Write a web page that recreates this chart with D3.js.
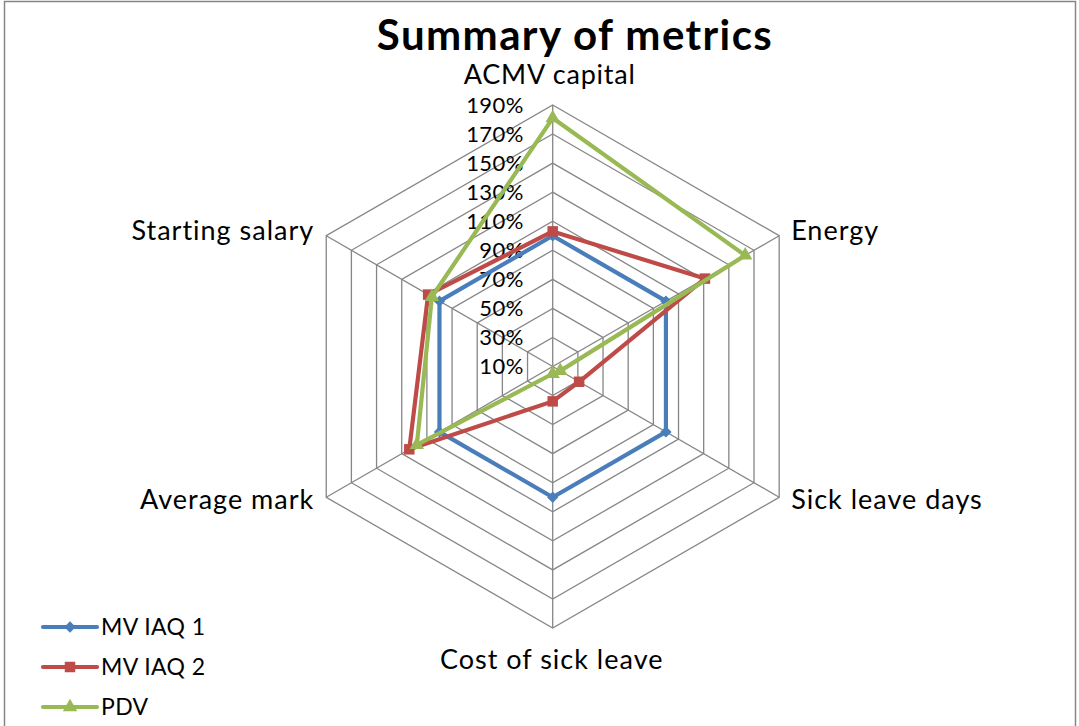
<!DOCTYPE html>
<html>
<head>
<meta charset="utf-8">
<script src="https://cdn.jsdelivr.net/npm/d3@7"></script>
<style>
  body { margin: 0; background: #fff; }
  text { font-family: Lato, "Open Sans", sans-serif; fill: #000; }
</style>
</head>
<body>
<div id="chart"></div>
<script>
// axis categories, clockwise from the top
var categories = ["ACMV capital", "Energy", "Sick leave days", "Cost of sick leave", "Average mark", "Starting salary"];

// series values (fractions, 1 = 100%)
var mvIaq1 = [1.00, 1.00, 1.00, 1.00, 1.00, 1.00];
var mvIaq2 = [1.03, 1.31, 0.31, 0.34, 1.24, 1.09];
var pdv    = [1.81, 1.63, 0.16, 0.15, 1.18, 1.06];

var seriesNames = ["MV IAQ 1", "MV IAQ 2", "PDV"];

// radial tick values / labels
var tickValues = [0.1, 0.3, 0.5, 0.7, 0.9, 1.1, 1.3, 1.5, 1.7, 1.9];
var tickLabels = ["10%", "30%", "50%", "70%", "90%", "110%", "130%", "150%", "170%", "190%"];

var width = 1079, height = 726;
var cx = 552.7, cy = 366.5, R = 261.5;
var colors = ["#4A7EBB", "#BE4B48", "#98B954"];
var gridColor = "#868686";

var svg = d3.select("#chart").append("svg")
    .attr("width", width)
    .attr("height", height);

// chart area border
svg.append("rect")
    .attr("x", 4.5).attr("y", 1.5)
    .attr("width", 1071).attr("height", 740)
    .attr("fill", "none")
    .attr("stroke", gridColor)
    .attr("stroke-width", 1.5);

var r = d3.scaleLinear().domain([0.1, 1.9]).range([0, R]);
var angle = d3.scaleLinear().domain([0, categories.length]).range([0, 2 * Math.PI]);

function pt(i, v) {
    var a = angle(i);
    return [cx + r(v) * Math.sin(a), cy - r(v) * Math.cos(a)];
}

var g = svg.append("g");

// rings
tickValues.slice(1).forEach(function (t) {
    var pts = categories.map(function (c, i) { return pt(i, t); });
    g.append("polygon")
        .attr("points", pts.map(function (p) { return p.join(","); }).join(" "))
        .attr("fill", "none")
        .attr("stroke", gridColor)
        .attr("stroke-width", 1.3);
});

// spokes
categories.forEach(function (c, i) {
    var p = pt(i, 1.9);
    g.append("line")
        .attr("x1", cx).attr("y1", cy)
        .attr("x2", p[0]).attr("y2", p[1])
        .attr("stroke", gridColor)
        .attr("stroke-width", 1.3);
});

// tick labels
g.selectAll(".tick")
    .data(tickValues)
    .enter().append("text")
    .attr("class", "tick")
    .attr("x", cx - 29)
    .attr("y", function (d) { return cy - r(d); })
    .attr("dy", "0.36em")
    .attr("text-anchor", "end")
    .style("font-size", "22px")
    .style("letter-spacing", "0.4px")
    .text(function (d, i) { return tickLabels[i]; });

// category labels
var catPos = [
    {dx: -3, dy: -21, anchor: "middle", mid: false},
    {dx: 12, dy: -5, anchor: "start", mid: true},
    {dx: 12, dy: 2, anchor: "start", mid: true},
    {dx: -1, dy: 31, anchor: "middle", mid: true},
    {dx: -12, dy: 2, anchor: "end", mid: true},
    {dx: -12, dy: -5, anchor: "end", mid: true}
];
categories.forEach(function (c, i) {
    var p = pt(i, 1.9);
    var o = catPos[i];
    g.append("text")
        .attr("x", p[0] + o.dx)
        .attr("y", p[1] + o.dy)
        .attr("dy", o.mid ? "0.36em" : 0)
        .attr("text-anchor", o.anchor)
        .style("font-size", "27px")
        .style("letter-spacing", i === 0 ? "0.8px" : "1px")
        .text(c);
});

// series
var allSeries = [mvIaq1, mvIaq2, pdv];
var line = d3.line().curve(d3.curveLinearClosed);
var symbols = [d3.symbolSquare, d3.symbolSquare, d3.symbolTriangle];
var symSizes = [64, 110, 90];
var symRotate = [45, 0, 0];

allSeries.forEach(function (vals, s) {
    var pts = vals.map(function (v, i) { return pt(i, v); });
    g.append("path")
        .attr("d", line(pts))
        .attr("fill", "none")
        .attr("stroke", colors[s])
        .attr("stroke-width", 4.2)
        .attr("stroke-linejoin", "round");
    g.selectAll(".m" + s)
        .data(pts)
        .enter().append("path")
        .attr("class", "m" + s)
        .attr("transform", function (p) {
            return "translate(" + p[0] + "," + p[1] + ") rotate(" + symRotate[s] + ")";
        })
        .attr("d", d3.symbol().type(symbols[s]).size(symSizes[s]))
        .attr("fill", colors[s]);
});

// title
svg.append("text")
    .attr("x", 575)
    .attr("y", 50)
    .attr("text-anchor", "middle")
    .style("font-size", "42px")
    .style("font-weight", "bold")
    .style("letter-spacing", "1.4px")
    .text("Summary of metrics");

// legend
var legend = svg.append("g");
seriesNames.forEach(function (n, s) {
    var y = 627 + s * 40;
    legend.append("line")
        .attr("x1", 43).attr("x2", 97)
        .attr("y1", y).attr("y2", y)
        .attr("stroke", colors[s])
        .attr("stroke-width", 4.2)
        .attr("stroke-linecap", "round");
    legend.append("path")
        .attr("transform", "translate(70," + y + ") rotate(" + symRotate[s] + ")")
        .attr("d", d3.symbol().type(symbols[s]).size(symSizes[s]))
        .attr("fill", colors[s]);
    legend.append("text")
        .attr("x", 101)
        .attr("y", y)
        .attr("dy", "0.36em")
        .style("font-size", "23px")
        .style("letter-spacing", "0.4px")
        .text(n);
});
</script>
</body>
</html>
